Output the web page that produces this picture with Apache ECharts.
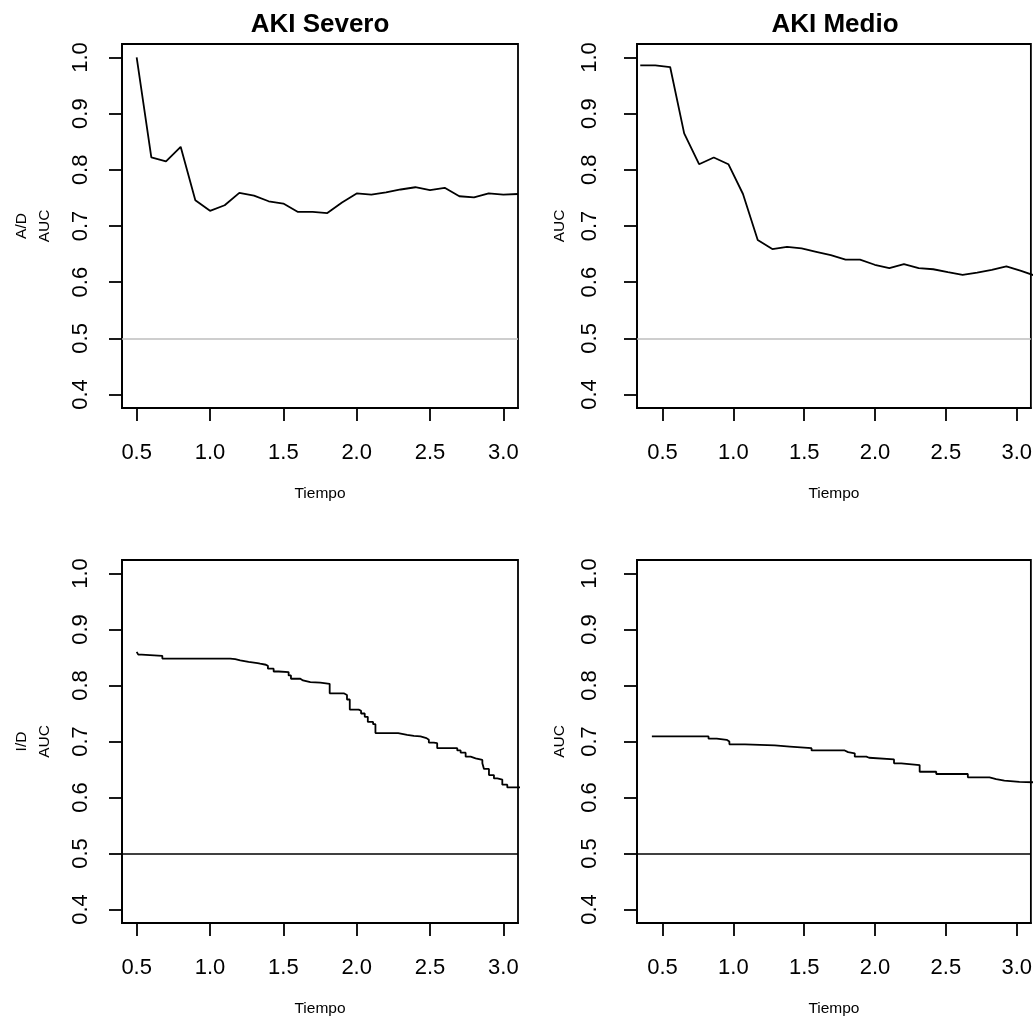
<!DOCTYPE html>
<html>
<head>
<meta charset="utf-8">
<title>AUC dependiente del tiempo</title>
<script src="https://cdn.jsdelivr.net/npm/echarts@6/dist/echarts.min.js"></script>
<style>
  html, body { margin: 0; padding: 0; background: #fff; }
  #chart { width: 1035px; height: 1018px; }
</style>
</head>
<body>
<div id="chart"></div>
<script>
// AUC acumulado/dinámico (A/D) por tiempo
const tiempoSeveroAD = [0.5, 0.6, 0.7, 0.8, 0.9, 1.0, 1.1, 1.2, 1.3, 1.4, 1.5, 1.6, 1.7, 1.8, 1.9,
  2.0, 2.1, 2.2, 2.3, 2.4, 2.5, 2.6, 2.7, 2.8, 2.9, 3.0, 3.1];
const aucSeveroAD = [1.000, 0.822, 0.815, 0.841, 0.746, 0.727, 0.737, 0.759, 0.754, 0.744, 0.740,
  0.725, 0.725, 0.723, 0.742, 0.758, 0.756, 0.760, 0.765, 0.769, 0.764, 0.768, 0.753, 0.751,
  0.758, 0.756, 0.757];

const tiempoMedioAD = [0.343, 0.449, 0.554, 0.653, 0.758, 0.862, 0.965, 1.068, 1.172, 1.275,
  1.379, 1.482, 1.585, 1.688, 1.792, 1.894, 1.998, 2.101, 2.204, 2.308, 2.411, 2.514, 2.618,
  2.721, 2.824, 2.927, 3.031, 3.134];
const aucMedioAD = [0.986, 0.986, 0.983, 0.865, 0.810, 0.822, 0.810, 0.757, 0.675, 0.659, 0.663,
  0.660, 0.654, 0.648, 0.640, 0.640, 0.631, 0.625, 0.632, 0.625, 0.623, 0.618, 0.613, 0.617,
  0.622, 0.628, 0.620, 0.611];

// AUC incidente/dinámico (I/D): función escalonada
const tiempoSeveroID = [0.500, 0.511, 0.534, 0.675, 1.138, 1.172, 1.206, 1.263, 1.324, 1.342,
  1.381, 1.395, 1.434, 1.468, 1.536, 1.552, 1.616, 1.634, 1.684, 1.752, 1.816, 1.912, 1.934,
  1.953, 2.014, 2.030, 2.055, 2.076, 2.112, 2.128, 2.283, 2.344, 2.390, 2.435, 2.476, 2.492,
  2.526, 2.549, 2.686, 2.709, 2.743, 2.777, 2.811, 2.857, 2.868, 2.902, 2.936, 2.959, 2.993,
  3.027, 3.150];
const aucSeveroID = [0.860, 0.855, 0.853, 0.848, 0.847, 0.845, 0.842, 0.840, 0.839, 0.837,
  0.835, 0.830, 0.825, 0.824, 0.818, 0.812, 0.809, 0.806, 0.805, 0.803, 0.786, 0.783, 0.775,
  0.757, 0.755, 0.750, 0.744, 0.735, 0.731, 0.715, 0.712, 0.710, 0.709, 0.706, 0.703, 0.698,
  0.697, 0.688, 0.684, 0.680, 0.673, 0.670, 0.667, 0.661, 0.651, 0.640, 0.634, 0.632, 0.623,
  0.618, 0.618];

const tiempoMedioID = [0.425, 0.825, 0.883, 0.953, 0.972, 1.082, 1.293, 1.399, 1.552, 1.786,
  1.810, 1.857, 1.939, 1.958, 2.134, 2.185, 2.315, 2.432, 2.655, 2.808, 2.855, 2.913, 3.019,
  3.150];
const aucMedioID = [0.709, 0.705, 0.703, 0.700, 0.695, 0.693, 0.691, 0.688, 0.684, 0.681,
  0.679, 0.673, 0.671, 0.668, 0.661, 0.658, 0.646, 0.642, 0.636, 0.633, 0.630, 0.628, 0.627,
  0.626];

const xTicks = [0.5, 1.0, 1.5, 2.0, 2.5, 3.0];
const yTicks = [0.4, 0.5, 0.6, 0.7, 0.8, 0.9, 1.0];
const titulos = ['AKI Severo', 'AKI Medio'];
const etiquetasY = ['A/D\nAUC', 'AUC', 'I/D\nAUC', 'AUC'];
const etiquetaX = 'Tiempo';
const referencia = 0.5;

const FONT = '"Liberation Sans", Arial, Helvetica, sans-serif';
const zip = (xs, ys) => xs.map((x, i) => [x, ys[i]]);

// layout of the four plot regions (2 x 2)
const paneles = [
  { left: 122, top: 44, xmin: 0.4, xmax: 3.1, datos: zip(tiempoSeveroAD, aucSeveroAD), step: false, ref: '#bebebe', ym: 30 },
  { left: 637, top: 44, xmin: 0.32, xmax: 3.1, datos: zip(tiempoMedioAD, aucMedioAD), step: false, ref: '#bebebe', ym: 36 },
  { left: 122, top: 560, xmin: 0.4, xmax: 3.1, datos: zip(tiempoSeveroID, aucSeveroID), step: 'end', ref: '#000000', ym: 30 },
  { left: 637, top: 560, xmin: 0.32, xmax: 3.1, datos: zip(tiempoMedioID, aucMedioID), step: 'end', ref: '#000000', ym: 36 }
];
const W = 396, H = 364;
const LW = 1.8;

const grid = [], xAxis = [], yAxis = [], series = [], title = [];

paneles.forEach((p, i) => {
  grid.push({
    left: p.left, top: p.top, width: W, height: H,
    show: true, borderColor: '#000', borderWidth: LW, backgroundColor: 'transparent'
  });
  xAxis.push({
    type: 'value', gridIndex: i, min: p.xmin, max: p.xmax,
    name: etiquetaX, nameLocation: 'middle', nameGap: 78,
    nameTextStyle: { fontFamily: FONT, fontSize: 15.5, color: '#000' },
    axisLine: { show: true, onZero: false, lineStyle: { color: '#000', width: LW } },
    axisTick: { show: true, inside: false, length: 13, customValues: xTicks, lineStyle: { color: '#000', width: LW } },
    axisLabel: {
      customValues: xTicks, margin: 34, fontFamily: FONT, fontSize: 22, color: '#000',
      formatter: v => v.toFixed(1)
    },
    splitLine: { show: false }
  });
  yAxis.push({
    type: 'value', gridIndex: i, min: 0.376, max: 1.024,
    name: etiquetasY[i], nameLocation: 'middle', nameGap: 66, nameRotate: 90,
    nameTextStyle: { fontFamily: FONT, fontSize: 15.5, color: '#000', lineHeight: 23, align: 'center' },
    axisLine: { show: true, onZero: false, lineStyle: { color: '#000', width: LW } },
    axisTick: { show: true, inside: false, length: 13, customValues: yTicks, lineStyle: { color: '#000', width: LW } },
    axisLabel: {
      customValues: yTicks, rotate: 90, margin: p.ym, fontFamily: FONT, fontSize: 22, color: '#000',
      formatter: v => v.toFixed(1)
    },
    splitLine: { show: false }
  });
  series.push({
    type: 'line', xAxisIndex: i, yAxisIndex: i, data: p.datos, step: p.step,
    showSymbol: false, symbol: 'none', clip: true, silent: true,
    lineStyle: { color: '#000', width: LW },
    markLine: {
      silent: true, symbol: 'none', label: { show: false },
      lineStyle: { color: p.ref, width: 1.5, type: 'solid' },
      data: [{ yAxis: referencia }]
    }
  });
});

titulos.forEach((t, i) => {
  title.push({
    text: t, left: paneles[i].left + W / 2, top: 12, textAlign: 'center', padding: 0,
    textStyle: { fontFamily: FONT, fontSize: 26, fontWeight: 'bold', color: '#000' }
  });
});

const chart = echarts.init(document.getElementById('chart'), null, { renderer: 'canvas' });
chart.setOption({
  animation: false,
  backgroundColor: '#fff',
  title, grid, xAxis, yAxis, series
});
</script>
</body>
</html>
